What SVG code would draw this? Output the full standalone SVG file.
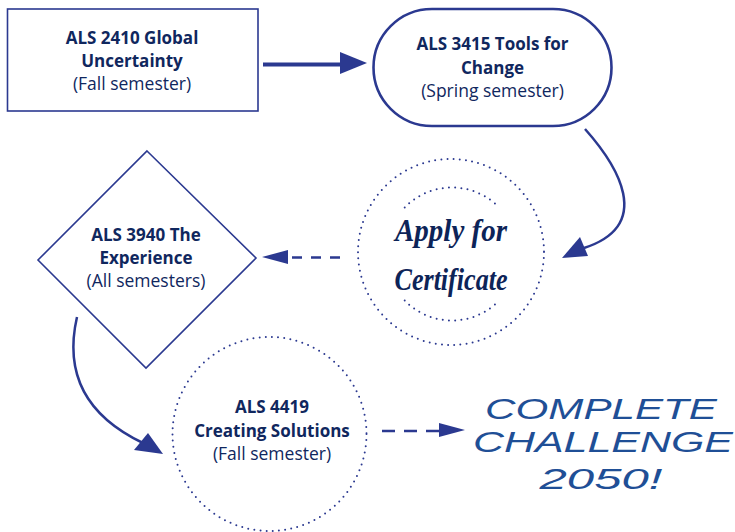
<svg xmlns="http://www.w3.org/2000/svg" width="735" height="532" viewBox="0 0 735 532">
<style>
.t{font-family:"Open Sans","Liberation Sans",sans-serif;font-size:17.5px;fill:#10275e;text-anchor:middle}
.b{font-weight:bold;font-size:17px}
.line{fill:none;stroke:#2b3990;stroke-width:2.5}
.dash{fill:none;stroke:#2b3990;stroke-width:2.5;stroke-dasharray:13 9}
.dots{fill:none;stroke:#2b3990;stroke-width:2;stroke-linecap:round;stroke-dasharray:0 6.2}
.head{fill:#2b3990}
.script{font-family:"Liberation Serif","DejaVu Serif",serif;font-style:italic;font-weight:bold;font-size:31px;fill:#0d2458;text-anchor:middle}
.big{font-family:"Liberation Sans","Arial",sans-serif;font-style:italic;font-size:29px;fill:#1f4f96;text-anchor:middle}
</style>
<rect width="735" height="532" fill="#ffffff"/>
<g id="connectors">
<line x1="263" y1="64.5" x2="342" y2="64.5" stroke="#2b3990" stroke-width="4"/>
<polygon class="head" points="367,63 340,52 340,74"/>
<path class="line" d="M585,129 C617,165 655,225 584,248"/>
<polygon class="head" points="562,258 580,237 588,256"/>
<line class="dash" x1="340" y1="257.5" x2="285" y2="257.5" style="stroke-dasharray:10 9"/>
<polygon class="head" points="262,257 288,250 288,264"/>
<path class="line" d="M77,317 C66,365 78,412 143,443"/>
<polygon class="head" points="134,450 148,433 163,454"/>
<line class="dash" x1="382" y1="431" x2="442" y2="431"/>
<polygon class="head" points="465,430 439,423 439,437"/>
</g>
<g id="node-als2410">
<rect x="7.5" y="9" width="250.5" height="102" fill="none" stroke="#2b3990" stroke-width="1.6"/>
<text class="t b" x="132" y="44">ALS 2410 Global</text>
<text class="t b" x="132" y="67">Uncertainty</text>
<text class="t" x="132" y="90">(Fall semester)</text>
</g>
<g id="node-als3415">
<rect x="373.5" y="9" width="238" height="117" rx="58.5" fill="none" stroke="#2b3990" stroke-width="2.6"/>
<text class="t b" x="492.5" y="50">ALS 3415 Tools for</text>
<text class="t b" x="492.5" y="74">Change</text>
<text class="t" x="492.5" y="97">(Spring semester)</text>
</g>
<g id="node-certificate">
<circle class="dots" cx="451" cy="252" r="93"/>
<path class="dots" d="M404.7,207.5 A66,66 0 0 1 499.3,207.5"/>
<path class="dots" d="M404.7,300.5 A66,66 0 0 0 499.3,300.5"/>
<text class="script" x="451" y="241" textLength="112" lengthAdjust="spacingAndGlyphs">Apply for</text>
<text class="script" x="451" y="290" textLength="113" lengthAdjust="spacingAndGlyphs">Certificate</text>
</g>
<g id="node-als3940">
<polygon points="147,151 256,258 146,368 38,260" fill="none" stroke="#2b3990" stroke-width="1.6"/>
<text class="t b" x="146" y="241">ALS 3940 The</text>
<text class="t b" x="146" y="264">Experience</text>
<text class="t" x="146" y="287">(All semesters)</text>
</g>
<g id="node-als4419">
<circle class="dots" cx="269.5" cy="434" r="97"/>
<text class="t b" x="272" y="413">ALS 4419</text>
<text class="t b" x="272" y="437">Creating Solutions</text>
<text class="t" x="272" y="460">(Fall semester)</text>
</g>
<g id="node-challenge">
<text class="big" x="601" y="419" textLength="232" lengthAdjust="spacingAndGlyphs">COMPLETE</text>
<text class="big" x="603" y="452" textLength="260" lengthAdjust="spacingAndGlyphs">CHALLENGE</text>
<text class="big" x="601" y="489" textLength="123" lengthAdjust="spacingAndGlyphs">2050!</text>
</g>
</svg>
